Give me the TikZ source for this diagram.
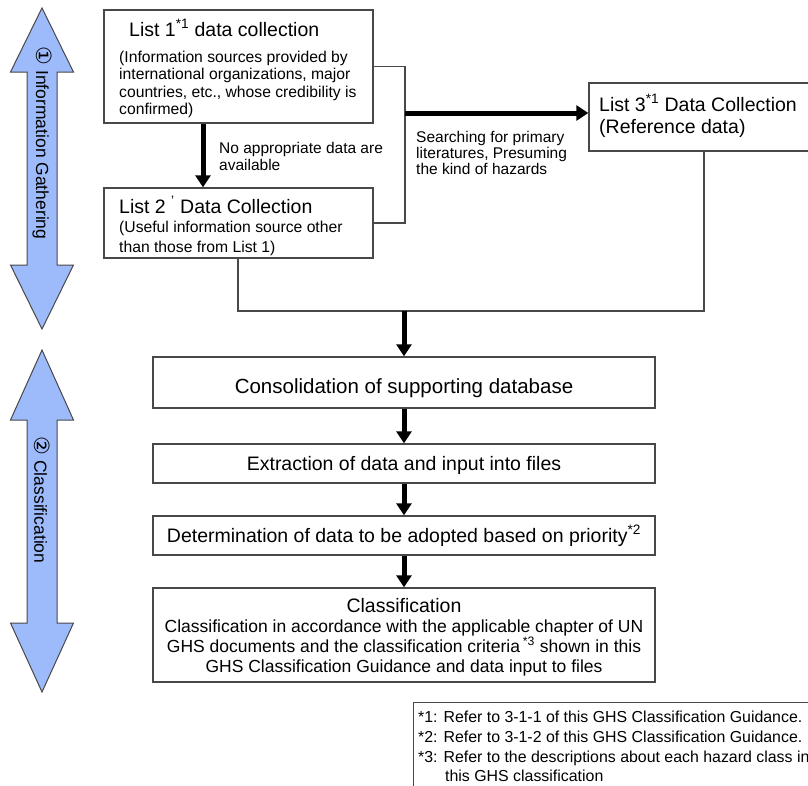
\documentclass[tikz,border=0pt]{standalone}
\usepackage{fontspec}
\setmainfont{Liberation Sans}
\newfontfamily\circfont{DejaVu Sans}
\usetikzlibrary{arrows.meta}

\definecolor{bandblue}{RGB}{157,186,250}
\definecolor{edgegray}{RGB}{72,72,72}
\newcommand\setfs[1]{\fontsize{#1}{#1}\selectfont}
\newcommand\circnum[1]{{\circfont\fontsize{21}{21}\selectfont #1}}

\tikzset{
  x=1pt, y=-1pt,
  box/.style={draw=edgegray, line width=1.4pt, fill=white, inner sep=0pt},
  wire/.style={draw=edgegray, line width=1.4pt},
  bigflow/.style={draw=black, line width=5pt, -{Triangle[width=15pt,length=12pt]}},
  band/.style={draw=edgegray, line width=1pt, fill=bandblue},
  txt/.style={inner sep=0pt, anchor=base west},
  ctxt/.style={inner sep=0pt, anchor=base},
  head/.style={txt, font=\setfs{19.5}},
  body/.style={txt, font=\setfs{15.7}},
  note/.style={txt, font=\setfs{15.5}},
  stage/.style={ctxt, font=\setfs{19.5}},
  stagebody/.style={ctxt, font=\setfs{17.5}},
  foot/.style={txt, font=\setfs{15.9}},
  bandtext/.style={inner sep=0pt, rotate=-90, font=\setfs{17.5}}
}

\begin{document}
\begin{tikzpicture}
\useasboundingbox (0,0) rectangle (808,785);
\clip (0,0) rectangle (808,785);

% ---- phase bands on the left ----
\path[band] (42,8) -- (73.5,72) -- (57,72) -- (57,265) -- (73.5,265) -- (42,329)
  -- (10.5,265) -- (27,265) -- (27,72) -- (10.5,72) -- cycle;
\node[bandtext] (phaseone) at (42,143) {\circnum{①} Information Gathering};

\path[band] (42,350) -- (73.5,420) -- (57,420) -- (57,623) -- (73.5,623) -- (42,692)
  -- (10.5,623) -- (27,623) -- (27,420) -- (10.5,420) -- cycle;
\node[bandtext] (phasetwo) at (42,500) {\circnum{②} Classification};

% ---- information gathering boxes ----
\node[box, minimum width=269, minimum height=113] (l1) at (238.5,66.5) {};
\node[head] (l1t) at (129,36) {List 1\textsuperscript{*1} data collection};
\node[body] (l1a) at (119,62) {(Information sources provided by};
\node[body] (l1b) at (119,79.5) {international organizations, major};
\node[body] (l1c) at (119,97) {countries, etc., whose credibility is};
\node[body] (l1d) at (119,114) {confirmed)};

\node[box, minimum width=269, minimum height=70] (l2) at (238.5,223) {};
\node[head] (l2t) at (119,213) {List 2 \textsuperscript{'} Data Collection};
\node[body] (l2a) at (119,232) {(Useful information source other};
\node[body] (l2b) at (119,252) {than those from List 1)};

\node[box, minimum width=230, minimum height=68] (l3) at (704,117) {};
\node[head] (l3t) at (599,111) {List 3\textsuperscript{*1} Data Collection};
\node[head] (l3a) at (599,133) {(Reference data)};

% ---- connectors of the gathering stage ----
\coordinate (rj) at (405,113);
\coordinate (jl) at (238,311);
\coordinate (jr) at (704,311);
\coordinate (jm) at (404,311);

\draw[wire] (l1.east) -| (rj) |- (l2.east);
\draw[bigflow] (l1.south -| 203,0) -- (l2.north -| 203,0);
\node[note] (na) at (219,153) {No appropriate data are};
\node[note] (nb) at (219,170) {available};

\draw[bigflow] (rj) -- (rj -| l3.west);
\node[note] (sa) at (416,142) {Searching for primary};
\node[note] (sb) at (416,158) {literatures, Presuming};
\node[note] (sc) at (416,174) {the kind of hazards};

\draw[wire] (l2.south -| jl) -- (jl) -- (jr) -- (l3.south -| jr);

% ---- classification stage ----
\node[box, minimum width=502, minimum height=51] (cons) at (404,382.5) {};
\node[stage, font=\setfs{20.5}] (const) at (404,393) {Consolidation of supporting database};

\node[box, minimum width=502, minimum height=39] (extr) at (404,463.5) {};
\node[stage] (extrt) at (404,470.5) {Extraction of data and input into files};

\node[box, minimum width=502, minimum height=39] (det) at (404,535.5) {};
\node[stage] (dett) at (404,542.5) {Determination of data to be adopted based on priority\textsuperscript{*2}};

\node[box, minimum width=502, minimum height=94] (cls) at (404,635) {};
\node[stage] (clst) at (404,612) {Classification};
\node[stagebody] (clsa) at (404,632) {Classification in accordance with the applicable chapter of UN};
\node[stagebody] (clsb) at (404,652) {GHS documents and the classification criteria\,\textsuperscript{*3} shown in this};
\node[stagebody] (clsc) at (404,672) {GHS Classification Guidance and data input to files};

\draw[bigflow] (jm) -- (cons.north);
\draw[bigflow] (cons.south) -- (extr.north);
\draw[bigflow] (extr.south) -- (det.north);
\draw[bigflow] (det.south) -- (cls.north);

% ---- footnotes ----
\node[box, minimum width=420, minimum height=100, anchor=north west] (notes) at (413,702) {};
\node[foot] (f1) at (418,722) {*1: Refer to 3-1-1 of this GHS Classification Guidance.};
\node[foot] (f2) at (418,742) {*2: Refer to 3-1-2 of this GHS Classification Guidance.};
\node[foot] (f3) at (418,762) {*3: Refer to the descriptions about each hazard class in};
\node[foot] (f4) at (445,781) {this GHS classification};
\end{tikzpicture}
\end{document}
